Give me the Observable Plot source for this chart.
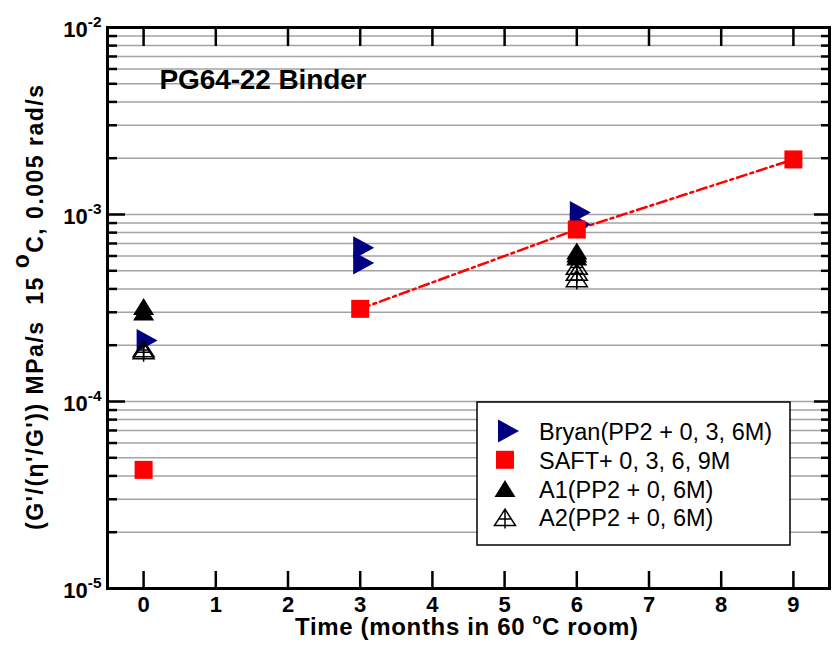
<!DOCTYPE html>
<html><head><meta charset="utf-8">
<script src="https://cdn.jsdelivr.net/npm/d3@7"></script>
<script src="https://cdn.jsdelivr.net/npm/@observablehq/plot@0.6"></script>
<style>
body{margin:0;background:#fff;}
#chart svg{display:block;background:#fff;}
</style></head><body><div id="chart"></div>
<script>
// ---------- data ----------
const xTicks = [0, 1, 2, 3, 4, 5, 6, 7, 8, 9];
const yMajorTicks = [1e-5, 1e-4, 1e-3, 1e-2];

const bryanMonths = [0, 3, 3, 6, 6];
const bryanValues = [2.12e-4, 6.64e-4, 5.50e-4, 1.026e-3, 8.85e-4];

const saftMonths = [0, 3, 6, 9];
const saftValues = [4.31e-5, 3.13e-4, 8.31e-4, 1.97e-3];

const a1Months = [0, 0, 6, 6, 6];
const a1Values = [3.22e-4, 3.01e-4, 6.38e-4, 6.15e-4, 5.93e-4];

const a2Months = [0, 0, 6, 6, 6];
const a2Values = [1.92e-4, 1.87e-4, 5.30e-4, 4.92e-4, 4.55e-4];

const legendLabels = ["Bryan(PP2 + 0, 3, 6M)", "SAFT+ 0, 3, 6, 9M", "A1(PP2 + 0, 6M)", "A2(PP2 + 0, 6M)"];
const titleText = "PG64-22 Binder";
const xLabelText = "Time (months in 60 ^{o}C room)";
const yLabelText = "(G'/(\u03B7'/G')) MPa/s  15 ^{o}C, 0.005 rad/s";

// ---------- derived ----------
const yMinorTicks = [];
for (const m of yMajorTicks.slice(0, -1)) for (let k = 2; k <= 9; k++) yMinorTicks.push(m * k);
const yGridTicks = [...yMajorTicks, ...yMinorTicks];

const zip = (xs, ys) => xs.map((x, i) => ({month: x, value: ys[i]}));
const bryan = zip(bryanMonths, bryanValues);
const saft = zip(saftMonths, saftValues);
const saftFit = saft.filter(d => d.month >= 3);
const a1 = zip(a1Months, a1Values);
const a2 = zip(a2Months, a2Values);

// ---------- symbols ----------
const rightTri = {draw(c) { c.moveTo(-7, -11.5); c.lineTo(14, 0); c.lineTo(-7, 11.5); c.closePath(); }};
const upTri = {draw(c) { c.moveTo(0, -8.5); c.lineTo(10.5, 8.5); c.lineTo(-10.5, 8.5); c.closePath(); }};
const crossTri = {draw(c) {
  c.moveTo(0, -8.2); c.lineTo(10.5, 8.2); c.lineTo(-10.5, 8.2); c.closePath();
  c.moveTo(-6.5, 1.5); c.lineTo(6.5, 1.5);
  c.moveTo(0, -8.2); c.lineTo(0, 11);
}};
const square = {draw(c) { c.rect(-9, -9, 18, 18); }};

const FONT = "'Liberation Sans', Arial, Helvetica, sans-serif";
const BLUE = "#000080", RED = "#ff0000";
const W = 835, H = 656, ML = 107, MR = 6, MT = 27, MB = 68;

const plot = Plot.plot({
  width: W, height: H,
  marginLeft: ML, marginRight: MR, marginTop: MT, marginBottom: MB,
  x: {domain: [-0.5, 9.5], label: null},
  y: {type: "log", domain: [1e-5, 1e-2], label: null},
  style: {fontFamily: FONT, background: "white", color: "black"},
  marks: [
    Plot.gridY({ticks: yGridTicks, stroke: "#a3a3a3", strokeOpacity: 1, strokeWidth: 1.5}),
    Plot.line(saftFit, {x: "month", y: "value", stroke: RED, strokeWidth: 2.5, strokeDasharray: "10,4,3,4"}),
    Plot.dot(bryan, {x: "month", y: "value", symbol: rightTri, fill: BLUE, stroke: "none"}),
    Plot.dot(saft, {x: "month", y: "value", symbol: square, fill: RED, stroke: "none"}),
    Plot.dot(a1, {x: "month", y: "value", symbol: upTri, fill: "black", stroke: "none"}),
    Plot.dot(a2, {x: "month", y: "value", symbol: crossTri, fill: "none", stroke: "black", strokeWidth: 1.5}),
    // ticks (inward)
    Plot.axisY({anchor: "left", ticks: yMajorTicks, tickSize: -18, tickFormat: () => "", strokeWidth: 2.5, label: null}),
    Plot.axisY({anchor: "left", ticks: yMinorTicks, tickSize: -10, tickFormat: () => "", strokeWidth: 2.5, label: null}),
    Plot.axisY({anchor: "right", ticks: yMajorTicks, tickSize: -16, tickFormat: () => "", strokeWidth: 2.5, label: null}),
    Plot.axisY({anchor: "right", ticks: yMinorTicks, tickSize: -9, tickFormat: () => "", strokeWidth: 2.5, label: null}),
    Plot.axisX({anchor: "bottom", ticks: xTicks, tickSize: -17, tickFormat: () => "", strokeWidth: 2.5, label: null}),
    Plot.axisX({anchor: "top", ticks: xTicks, tickSize: -18, tickFormat: () => "", strokeWidth: 2.5, label: null}),
    // tick labels
    Plot.axisY({anchor: "left", ticks: yMajorTicks, tickSize: 0, tickPadding: 6, dy: 2,
      tickFormat: d => "10^{" + Math.round(Math.log10(d)) + "}", fontSize: 22, fontWeight: "bold", label: null}),
    Plot.axisX({anchor: "bottom", ticks: xTicks, tickSize: 0, tickPadding: 8,
      tickFormat: d => String(d), fontSize: 22, fontWeight: "bold", label: null}),
    // texts
    Plot.text([titleText], {frameAnchor: "top-left", dx: 52, dy: 42, textAnchor: "start", lineAnchor: "top",
      fontSize: 28, fontWeight: "bold"}),
    Plot.text([xLabelText], {frameAnchor: "bottom", dx: -2, dy: 29, lineAnchor: "top", fontSize: 24, fontWeight: "bold"}),
    Plot.text([yLabelText], {frameAnchor: "left", lineAnchor: "middle", fontSize: 23, fontWeight: "bold"}),
    Plot.frame({strokeWidth: 3, stroke: "black"})
  ]
});

// superscript processing: "^{...}"
function richify(el, supScale, raiseEm) {
  const txt = el.textContent;
  if (!txt.includes("^{")) return;
  const fs = parseFloat(getComputedStyle(el).fontSize) || 20;
  const parts = txt.split(/\^\{([^}]*)\}/);
  el.textContent = "";
  const ns = "http://www.w3.org/2000/svg";
  let pendingDy = 0;
  parts.forEach((p, i) => {
    if (p === "") { return; }
    const t = document.createElementNS(ns, "tspan");
    t.textContent = p;
    if (i % 2 === 1) {
      t.setAttribute("font-size", (fs * supScale) + "px");
      t.setAttribute("dy", (-fs * raiseEm + pendingDy) + "px");
      pendingDy = fs * raiseEm;
    } else if (pendingDy) {
      t.setAttribute("dy", pendingDy + "px");
      pendingDy = 0;
    }
    el.appendChild(t);
  });
}
document.getElementById("chart").appendChild(plot);
plot.querySelectorAll("text").forEach(el => {
  const s = el.textContent;
  if (/^10\^/.test(s)) richify(el, 0.7, 0.45);
  else if (s.startsWith("Time")) {
    richify(el, 0.6, 0.42);
    el.setAttribute("textLength", 343); el.setAttribute("lengthAdjust", "spacing");
  } else if (s.startsWith("PG64")) {
    el.setAttribute("textLength", 207); el.setAttribute("lengthAdjust", "spacing");
  } else if (s.startsWith("(G")) {
    richify(el, 1.0, 0.62);
    el.setAttribute("textLength", 445); el.setAttribute("lengthAdjust", "spacing");
    el.setAttribute("text-anchor", "start");
  }
});
// rotated y label, centred on the frame's vertical middle, 35px from the left edge
(() => {
  const el = [...plot.querySelectorAll("text")].find(e => e.textContent.startsWith("(G"));
  if (!el) return;
  const ctm = el.parentNode.getCTM ? el.parentNode.getCTM() : null;
  const cy = (MT + (H - MB)) / 2;
  const ox = ctm ? ctm.e : 0, oy = ctm ? ctm.f : 0;
  el.setAttribute("transform", `translate(${35 - ox},${cy + 445 / 2 - oy}) rotate(-90)`);
  el.removeAttribute("x"); el.removeAttribute("y");
  el.setAttribute("dy", "0.35em");
})();

// legend
const svg = d3.select(plot);
const fr = {right: W - MR, bottom: H - MB};
const box = {x: fr.right - 39 - 313, y: fr.bottom - 43 - 143, w: 313, h: 143};
const lg = svg.append("g").attr("font-family", FONT).attr("text-anchor", "start");
lg.append("rect").attr("x", box.x).attr("y", box.y).attr("width", box.w).attr("height", box.h)
  .attr("fill", "white").attr("stroke", "black").attr("stroke-width", 1.5);
const legendSyms = [
  {sym: rightTri, fill: BLUE, stroke: "none"},
  {sym: square, fill: RED, stroke: "none"},
  {sym: upTri, fill: "black", stroke: "none"},
  {sym: crossTri, fill: "none", stroke: "black"}
];
legendLabels.forEach((label, i) => {
  const cy = box.y + 29 + i * 28.8;
  const p = d3.path(); legendSyms[i].sym.draw(p, 0);
  lg.append("path").attr("d", p.toString()).attr("transform", `translate(${box.x + 28},${cy})`)
    .attr("fill", legendSyms[i].fill).attr("stroke", legendSyms[i].stroke).attr("stroke-width", 1.5);
  lg.append("text").attr("x", box.x + 62).attr("y", cy + 9).attr("font-size", 23.5)
    .attr("text-anchor", "start").attr("fill", "black").text(label);
});
</script></body></html>
